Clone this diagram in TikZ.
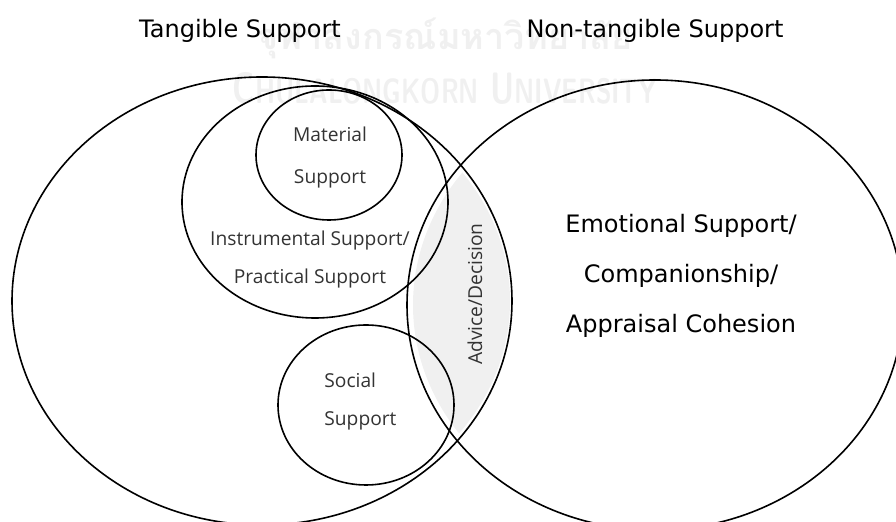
\documentclass[tikz,border=0pt]{standalone}
\usepackage{fontspec}
\setmainfont{Open Sans}
\newfontfamily\headfont{DejaVu Sans}
\newfontfamily\thaifont[Script=Thai]{Loma}
\usetikzlibrary{positioning}

\tikzset{
  venn/.style={line width=0.8pt},
  heading/.style={inner sep=0pt, font=\headfont\fontsize{12}{14}\selectfont},
  inlabel/.style={inner sep=0pt, align=center, text=black!80,
                  font=\fontsize{9.6}{19}\selectfont},
  wmark/.style={inner sep=0pt, text=black!6}
}

\begin{document}
\begin{tikzpicture}[x=0.5pt,y=-0.5pt]
\useasboundingbox (0,0) rectangle (896,522);
\clip (0,0) rectangle (896,522);

% watermark
\node[wmark, font=\thaifont\bfseries\fontsize{18}{22}\selectfont] (wmthai) at (445,38) {จุฬาลงกรณ์มหาวิทยาลัย};
\node[wmark, font=\sffamily\bfseries\fontsize{22}{24}\selectfont, xscale=0.72] (wmeng) at (445,88) {C\scalebox{0.8}{HULALONGKORN} U\scalebox{0.8}{NIVERSITY}};

% shared part of the two big sets
\begin{scope}
  \clip (658,305) ellipse (245 and 220);
  \fill[black!6] (262,301) ellipse (248 and 218);
\end{scope}

% sets
\draw[venn] (262,301) ellipse (250 and 224);  % tangible
\draw[venn] (655,305) ellipse (248 and 225);  % non-tangible
\draw[venn] (315,202) ellipse (133 and 116);  % instrumental
\draw[venn] (329,155) ellipse (73 and 65);    % material
\draw[venn] (366,405) ellipse (88 and 80);    % social

% titles
\node[heading, anchor=base] (tangible) at (240,38) {Tangible Support};
\node[heading, anchor=base] (nontangible) at (655,38) {Non-tangible Support};

% labels
\node[inlabel, font=\fontsize{9.6}{21}\selectfont] (material) at (330,158) {Material\\Support};
\node[inlabel] (instrumental) at (310,260) {Instrumental Support/\\Practical Support};
\node[inlabel, align=left, anchor=west] (social) at (324,402) {Social\\Support};
\node[inlabel, rotate=90] (advice) at (475,294) {Advice/Decision};
\node[heading, align=center, font=\headfont\fontsize{12}{25}\selectfont] (emotional) at (681,276)
  {Emotional Support/\\Companionship/\\Appraisal Cohesion};
\end{tikzpicture}
\end{document}
